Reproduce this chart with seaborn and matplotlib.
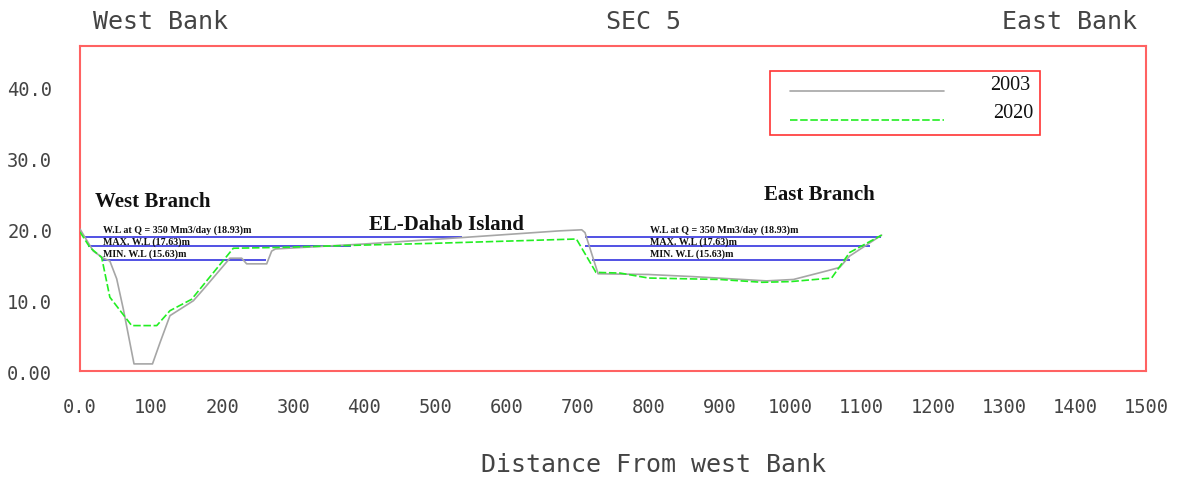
import matplotlib
matplotlib.use("Agg")
import matplotlib.pyplot as plt
import seaborn as sns
import pandas as pd
from matplotlib.patches import Rectangle
from matplotlib.lines import Line2D

# ---------------- data ----------------
dist_2003 = [0, 18.7, 32.8, 42, 51.6, 61, 76, 102, 112.6, 126.6, 159.5, 173.5,
             211, 227.5, 234.5, 262.7, 269.7, 275, 400, 537, 675, 706, 710.6,
             729, 800, 863, 966, 1004, 1050.6, 1069, 1083, 1128]
elev_2003 = [20.0, 16.9, 15.9, 15.5, 13.0, 8.7, 1.0, 1.0, 4.0, 7.8, 9.9, 11.5,
             15.9, 15.9, 15.1, 15.1, 16.9, 17.2, 17.9, 18.8, 19.75, 19.9, 19.5,
             13.7, 13.6, 13.3, 12.7, 12.9, 14.1, 14.6, 16.2, 19.15]

dist_2020 = [0, 14, 30.5, 42, 72.7, 108, 126.6, 157, 215.7, 272, 381, 500, 600,
             698.5, 726, 760, 800, 900, 960, 1000, 1057.6, 1083, 1128]
elev_2020 = [19.6, 17.4, 16.0, 10.4, 6.4, 6.4, 8.5, 10.1, 17.3, 17.4, 17.7, 18.0,
             18.3, 18.6, 13.9, 13.8, 13.1, 12.9, 12.5, 12.6, 13.1, 16.7, 19.15]

years = ["2003", "2020"]

# water levels and the stretches where they are drawn
wl_levels = [18.93, 18.93, 17.63, 17.63, 15.63, 15.63]
wl_start = [7, 711, 11, 711, 32, 720]
wl_end = [537, 1127, 381, 1112, 262, 1083]

wl_labels = ["W.L at Q = 350 Mm3/day (18.93)m", "MAX. W.L (17.63)m", "MIN. W.L (15.63)m"]
wl_label_y = [20.0, 18.3, 16.6]
wl_label_x = [32.6, 802]

region_names = ["West Branch", "EL-Dahab Island", "East Branch"]
region_x = [21, 515, 1041]
region_y = [23.9, 20.7, 24.9]

x_ticks = list(range(0, 1501, 100))
x_tick_labels = ["0.0"] + [str(v) for v in x_ticks[1:]]
y_ticks = [0, 10, 20, 30, 40]
y_tick_labels = ["0.00", "10.0", "20.0", "30.0", "40.0"]

# ---------------- style ----------------
sns.set_style("white")
plt.rcParams["font.family"] = ["DejaVu Sans Mono", "DejaVu Sans"]

cad_font = "DejaVu Sans Mono"
serif = ["Liberation Serif", "DejaVu Serif"]
text_col = "#444444"
gray = "#a6a6a6"
green = "#22ee22"
blue = "#2222dd"
red = "#ff6262"

fig = plt.figure(figsize=(11.89, 4.81), dpi=100)
ax = fig.add_axes([80 / 1189, 1 - 372 / 481, 1066 / 1189, 325 / 481])

df03 = pd.DataFrame({"dist": dist_2003, "elev": elev_2003})
df20 = pd.DataFrame({"dist": dist_2020, "elev": elev_2020})

sns.lineplot(data=df03, x="dist", y="elev", ax=ax, color=gray, lw=1.2,
             sort=False, estimator=None, zorder=3)
sns.lineplot(data=df20, x="dist", y="elev", ax=ax, color=green, lw=1.2,
             sort=False, estimator=None, zorder=4, dashes=False)
ax.lines[-1].set_dashes((4.5, 1.6))

ax.hlines(wl_levels, wl_start, wl_end, colors=blue, lw=1.1, zorder=2)

for xl in wl_label_x:
    for lab, yl in zip(wl_labels, wl_label_y):
        ax.text(xl, yl, lab, fontsize=7.2, fontweight="bold", family=serif,
                va="center", ha="left", color="#111111")

for name, xr, yr in zip(region_names, region_x, region_y):
    ha = "left" if name == "West Branch" else "center"
    ax.text(xr, yr, name, fontsize=15, fontweight="bold", family=serif,
            va="center", ha=ha, color="#111111")

ax.set_xlim(0, 1500)
ax.set_ylim(0, 45.8)
ax.set_xticks(x_ticks)
ax.set_xticklabels(x_tick_labels)
ax.set_yticks(y_ticks)
ax.set_yticklabels(y_tick_labels)
ax.tick_params(axis="both", direction="out", length=10, width=1.0, color="#222222",
               labelcolor=text_col, labelsize=13.5)
ax.tick_params(axis="x", pad=9)
ax.tick_params(axis="y", pad=10)
for lab in ax.get_xticklabels() + ax.get_yticklabels():
    lab.set_family(cad_font)

for s in ax.spines.values():
    s.set_visible(True)
    s.set_color(red)
    s.set_linewidth(1.5)

ax.set_ylabel("")
ax.set_xlabel("Distance From west Bank", fontsize=18, family=cad_font,
              color=text_col, va="center")
ax.xaxis.set_label_coords(0.538, -0.286)

# legend box
ax.add_patch(Rectangle((0.6473, 0.7262), 0.9006 - 0.6473, 0.924 - 0.7262,
                       transform=ax.transAxes, fill=False, edgecolor="#ff3333",
                       lw=1.2, zorder=5))
ax.add_line(Line2D([0.666, 0.8105], [0.8606, 0.8606], transform=ax.transAxes,
                   color=gray, lw=1.2, zorder=5))
ax.add_line(Line2D([0.666, 0.8105], [0.7732, 0.7732], transform=ax.transAxes,
                   color=green, lw=1.2, dashes=(4.5, 1.6), zorder=5))
ax.text(0.8912, 0.88, years[0], transform=ax.transAxes, ha="right", va="center",
        fontsize=14.5, family=serif, color="#111111")
ax.text(0.894, 0.794, years[1], transform=ax.transAxes, ha="right", va="center",
        fontsize=14.5, family=serif, color="#111111")

# header texts
fig.text(161 / 1189, 1 - 22 / 481, "West Bank", ha="center", va="center",
         fontsize=18, family=cad_font, color=text_col)
fig.text(643 / 1189, 1 - 22 / 481, "SEC 5", ha="center", va="center",
         fontsize=18, family=cad_font, color=text_col)
fig.text(1069 / 1189, 1 - 22 / 481, "East Bank", ha="center", va="center",
         fontsize=18, family=cad_font, color=text_col)

fig.savefig("out.png", dpi=100, facecolor="white")
